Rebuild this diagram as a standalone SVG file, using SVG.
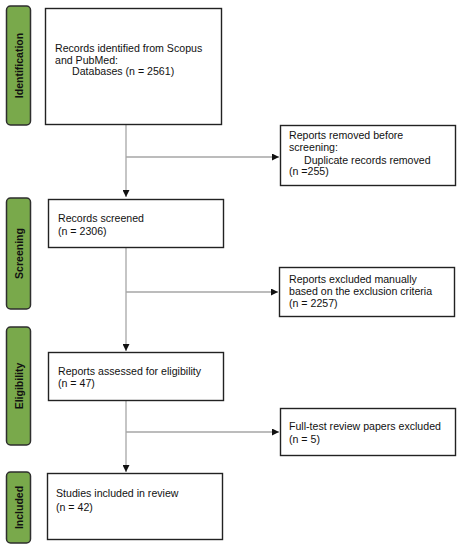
<svg xmlns="http://www.w3.org/2000/svg" width="461" height="550" viewBox="0 0 461 550">
<defs>
<style>
.pill{fill:#79a94b;stroke:#2e2e2e;stroke-width:1.5}
.box{fill:#fff;stroke:#222;stroke-width:1.4}
.pt{font-family:"Liberation Sans",Arial,sans-serif;font-size:10.5px;font-weight:bold;fill:#111;text-anchor:middle}
.t{font-family:"Liberation Sans",Arial,sans-serif;font-size:10.6px;fill:#111}
.ln{stroke:#a6a6a6;stroke-width:1.3;fill:none}
</style>
<marker id="ah" viewBox="0 0 10 10" refX="10" refY="5" markerWidth="7" markerHeight="7" markerUnits="userSpaceOnUse" orient="auto">
<path d="M0,0 L10,5 L0,10 z" fill="#111"/>
</marker>
</defs>
<rect width="461" height="550" fill="#fff"/>
<g id="phase-identification"><rect class="pill" x="6.5" y="6" width="24" height="119" rx="4"/><text class="pt" transform="translate(22.5,65.5) rotate(-90)">Identification</text></g>
<g id="phase-screening"><rect class="pill" x="6.5" y="198" width="24" height="111" rx="4"/><text class="pt" transform="translate(22.5,253.5) rotate(-90)">Screening</text></g>
<g id="phase-eligibility"><rect class="pill" x="6.5" y="327" width="24" height="118" rx="4"/><text class="pt" transform="translate(22.5,386) rotate(-90)">Eligibility</text></g>
<g id="phase-included"><rect class="pill" x="6.5" y="472" width="24" height="71" rx="4"/><text class="pt" transform="translate(22.5,507.5) rotate(-90)">Included</text></g>
<g id="connectors">
<line class="ln" x1="126" y1="125" x2="126" y2="197" marker-end="url(#ah)"/>
<line class="ln" x1="126" y1="157" x2="279" y2="157" marker-end="url(#ah)"/>
<line class="ln" x1="126" y1="248" x2="126" y2="351" marker-end="url(#ah)"/>
<line class="ln" x1="126" y1="292" x2="278" y2="292" marker-end="url(#ah)"/>
<line class="ln" x1="126" y1="401" x2="126" y2="472" marker-end="url(#ah)"/>
<line class="ln" x1="126" y1="432" x2="279" y2="432" marker-end="url(#ah)"/>
</g>
<g id="n1"><rect class="box" x="45.5" y="8.5" width="176" height="116"/><text class="t" x="55" y="52">Records identified from Scopus</text><text class="t" x="55" y="63.5">and PubMed:</text><text class="t" x="72" y="75">Databases (n = 2561)</text></g>
<g id="n2"><rect class="box" x="280.5" y="125.5" width="175" height="60"/><text class="t" x="289" y="139">Reports removed before</text><text class="t" x="289" y="151">screening:</text><text class="t" x="304" y="163.5">Duplicate records removed</text><text class="t" x="289" y="175">(n =255)</text></g>
<g id="n3"><rect class="box" x="48.5" y="199.5" width="175" height="48"/><text class="t" x="58" y="222">Records screened</text><text class="t" x="58" y="235">(n = 2306)</text></g>
<g id="n4"><rect class="box" x="279.5" y="267.5" width="175" height="49"/><text class="t" x="289" y="283">Reports excluded manually</text><text class="t" x="289" y="295">based on the exclusion criteria</text><text class="t" x="289" y="307">(n = 2257)</text></g>
<g id="n5"><rect class="box" x="48.5" y="352.5" width="175" height="48"/><text class="t" x="58" y="375">Reports assessed for eligibility</text><text class="t" x="58" y="387">(n = 47)</text></g>
<g id="n6"><rect class="box" x="280.5" y="408.5" width="175" height="47"/><text class="t" x="289" y="430">Full-test review papers excluded</text><text class="t" x="289" y="443">(n = 5)</text></g>
<g id="n7"><rect class="box" x="47.5" y="473.5" width="175" height="66"/><text class="t" x="56" y="497">Studies included in review</text><text class="t" x="56" y="511">(n = 42)</text></g>
</svg>
